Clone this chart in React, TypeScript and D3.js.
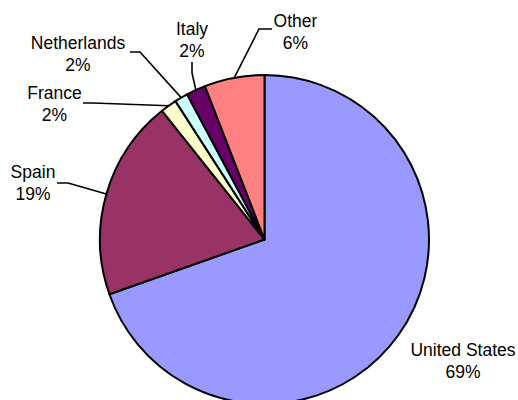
import React from "react";
import * as d3 from "d3";

const categories = ["United States", "Spain", "France", "Netherlands", "Italy", "Other"];
const values = [69.6, 19.7, 1.6, 1.3, 1.9, 5.9];
const percentLabels = ["69%", "19%", "2%", "2%", "2%", "6%"];
const colors = ["#9999FF", "#993366", "#FFFFCC", "#CCFFFF", "#660066", "#FF8080"];

// label layout: text center x, first baseline y, leader elbow and start (null = no leader)
const labelLayout = [
  { x: 463, y: 356, elbow: null, start: null },
  { x: 33, y: 178, elbow: [68, 183], start: [57, 183] },
  { x: 54.5, y: 99, elbow: [93, 103], start: [83, 103] },
  { x: 78, y: 49, elbow: [140, 52], start: [130, 52] },
  { x: 192, y: 35, elbow: [192, 73], start: [192, 62] },
  { x: 295.5, y: 27, elbow: [259, 29], start: [272, 29] },
];

const W = 518;
const H = 400;
const cx = 264.5;
const cy = 239.5;
const R = 164.5;
const lineGap = 22;

export default function App() {
  const pie = d3
    .pie<number>()
    .sort(null)
    .value((d) => d)
    .startAngle(0)
    .endAngle(2 * Math.PI);
  const arcs = pie(values);
  const arc = d3.arc<d3.PieArcDatum<number>>().innerRadius(0).outerRadius(R);

  return (
    <svg
      width={W}
      height={H}
      style={{ position: "absolute", left: 0, top: 0, background: "#fff" }}
      fontFamily="'Liberation Sans', Arial, sans-serif"
    >
      <g transform={`translate(${cx},${cy})`}>
        {arcs.map((a, i) => (
          <path
            key={categories[i]}
            d={arc(a) || ""}
            fill={colors[i]}
            stroke="#000"
            strokeWidth={2}
            strokeLinejoin="round"
          />
        ))}
      </g>
      {arcs.map((a, i) => {
        const L = labelLayout[i];
        const mid = (a.startAngle + a.endAngle) / 2;
        const ex = cx + R * Math.sin(mid);
        const ey = cy - R * Math.cos(mid);
        return (
          <g key={"lab" + i}>
            {L.elbow && L.start && (
              <polyline
                points={`${L.start[0]},${L.start[1]} ${L.elbow[0]},${L.elbow[1]} ${ex},${ey}`}
                fill="none"
                stroke="#000"
                strokeWidth={1.6}
              />
            )}
            <text x={L.x} y={L.y} textAnchor="middle" fontSize={17.5} fill="#000">
              {categories[i]}
            </text>
            <text x={L.x} y={L.y + lineGap} textAnchor="middle" fontSize={17.5} fill="#000">
              {percentLabels[i]}
            </text>
          </g>
        );
      })}
    </svg>
  );
}
